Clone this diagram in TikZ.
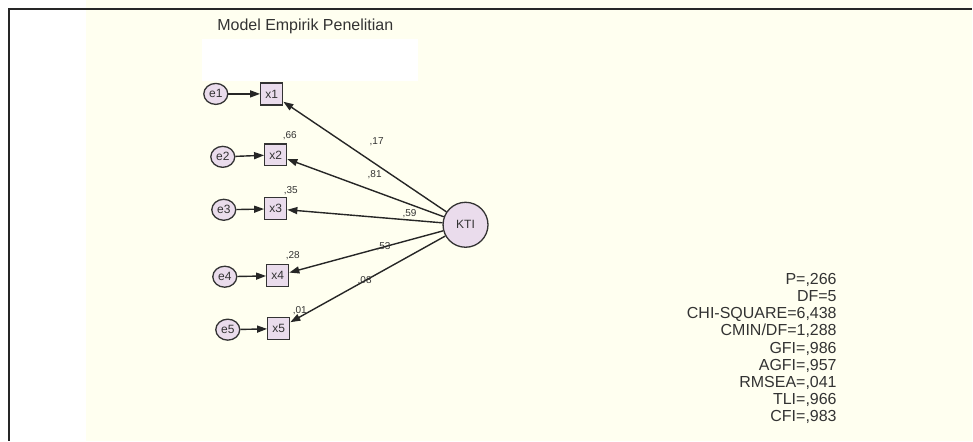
\documentclass[tikz,border=0pt]{standalone}
\usepackage{fontspec}
\setmainfont{Liberation Sans}
\usetikzlibrary{arrows.meta,shapes.geometric}
\usepackage{xcolor}
\definecolor{amoscream}{HTML}{FFFFF0}
\definecolor{amoslav}{HTML}{EADCEC}
\definecolor{amosink}{HTML}{333333}

\begin{document}
\begin{tikzpicture}[x=1pt,y=-1pt,
  every node/.style={text=amosink},
  errvar/.style={ellipse,draw=amosink,line width=1.3pt,fill=amoslav,
    minimum width=24pt,minimum height=21pt,inner sep=0pt,font=\fontsize{12}{13}\selectfont},
  obsvar/.style={rectangle,draw=amosink,line width=1.3pt,fill=amoslav,
    minimum size=22pt,inner sep=0pt,font=\fontsize{12}{13}\selectfont},
  latvar/.style={circle,draw=amosink,line width=1.3pt,fill=amoslav,
    minimum size=45pt,inner sep=0pt,font=\fontsize{12}{13}\selectfont},
  regarrow/.style={draw=black!85,line width=1.4pt,-{Triangle[length=10pt,width=7pt]}},
  coef/.style={font=\fontsize{10}{11}\selectfont},
  fitline/.style={font=\fontsize{16}{18}\selectfont,anchor=base east}]
  % page, frame and drawing area
  \fill[white] (0,0) rectangle (973,441);
  \fill[amoscream] (86,0) rectangle (973,441);
  \draw[line width=2pt,black!85] (9,441) -- (9,9) -- (973,9);

  \node[font=\fontsize{16}{19}\selectfont,anchor=base west] (title) at (214,31) {Model Empirik Penelitian};
  \fill[white] (202,39) rectangle (418,81);

  % latent factor
  \node[latvar] (kti) at (466,225) {KTI};

  % indicators with their error terms
  \foreach \i/\ex/\ey/\xx/\xy in {1/216/94/272/94, 2/223/157/276/155, 3/224/210/276/209,
                                 4/225/277/278/276, 5/228/330/279/329} {
    \node[errvar] (e\i) at (\ex,\ey) {e\i};
    \node[obsvar] (x\i) at (\xx,\xy) {x\i};
    \draw[regarrow] (e\i) -- (x\i);
    \draw[regarrow] (kti) -- (x\i);
  }

  % loadings and squared multiple correlations
  \foreach \n/\lx/\ly/\val in {l1/377/142/{,17}, l2/375/175/{,81}, l3/410/214/{,59},
                               l4/384/247/{,53}, l5/365/281/{,08},
                               r2/290/136/{,66}, r3/291/191/{,35}, r4/293/256/{,28}, r5/300/311/{,01}} {
    \node[coef] (\n) at (\lx,\ly) {\val};
  }

  % fit indices
  \foreach \s/\txt in {0/{P=,266}, 1/{DF=5}, 2/{CHI-SQUARE=6,438}, 3/{CMIN/DF=1,288},
                       4/{GFI=,986}, 5/{AGFI=,957}, 6/{RMSEA=,041}, 7/{TLI=,966}, 8/{CFI=,983}} {
    \pgfmathsetmacro{\y}{285 + \s * 17.1}
    \node[fitline] (fit\s) at (841,\y) {\txt};
  }
\end{tikzpicture}
\end{document}
